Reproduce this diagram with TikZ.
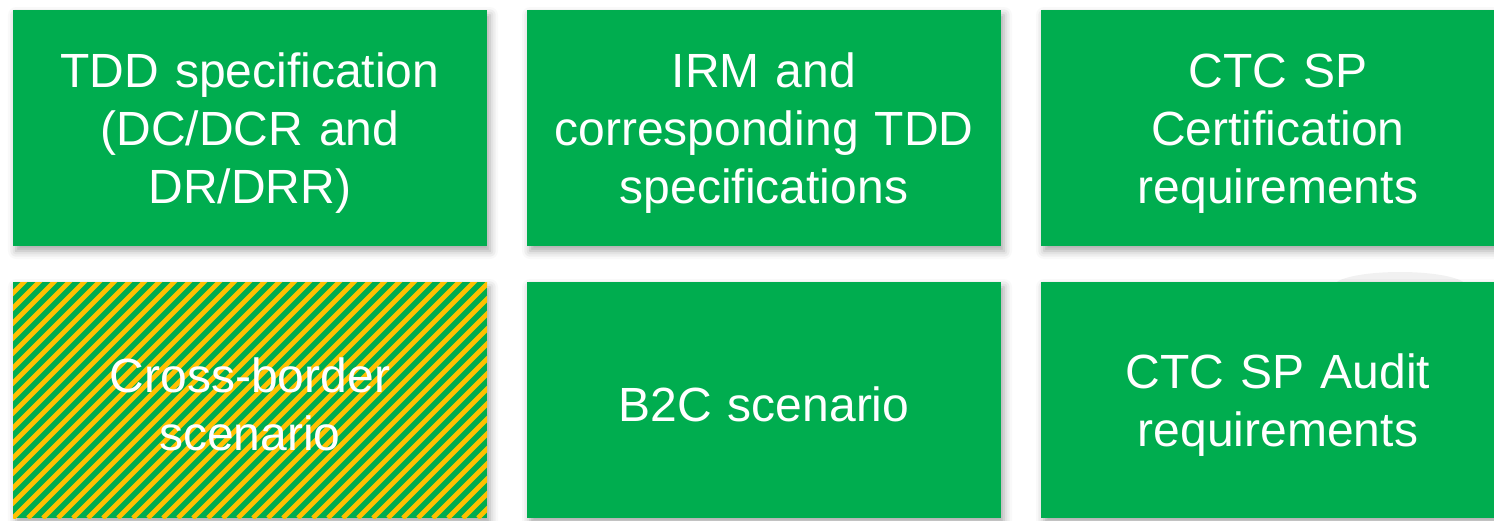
\documentclass[tikz,border=0pt]{standalone}
\usepackage{fontspec}
\setmainfont{Liberation Sans}
\usepackage{xcolor}
\usetikzlibrary{positioning,shadows.blur}
\definecolor{boxgreen}{HTML}{00AD4F}
\definecolor{stripeyellow}{HTML}{FFC000}

\begin{document}
\begin{tikzpicture}[
  box/.style={fill=boxgreen, text=white, minimum width=237pt, minimum height=118pt,
    text width=228pt, text height=22pt, align=center, inner sep=0pt, outer sep=0pt,
    font=\fontsize{24}{29}\selectfont,
    blur shadow={shadow xshift=1.5pt, shadow yshift=-2.5pt, shadow blur radius=4pt, shadow opacity=35}},
  hatched/.style={box, path picture={
    \foreach \i in {-17,...,33}
      \draw[stripeyellow, line width=2.4pt] ([xshift=\i*7.5pt]path picture bounding box.south west) -- ++(45:360pt);}},
  node distance=18pt and 20pt]
  \useasboundingbox (0,0) rectangle (747pt,-260pt);
  \clip (0,0) rectangle (747pt,-260pt);
  % faint shape behind the lower right box
  \fill[gray!11] (700pt,-143pt) ellipse (33pt and 7pt);

  % top row
  \node[box, anchor=north west] (tdd) at (6.5pt,-5pt) {TDD specification\\(DC/DCR and\\DR/DRR)};
  \node[box, right=of tdd] (irm) {IRM and\\corresponding TDD\\specifications};
  \node[box, right=of irm] (cert) {CTC SP\\Certification\\requirements};

  % bottom row
  \node[hatched, below=of tdd] (cross) {Cross-border\\scenario};
  \node[box, below=of irm] (btoc) {B2C scenario};
  \node[box, below=of cert] (audit) {CTC SP Audit\\requirements};
\end{tikzpicture}
\end{document}
